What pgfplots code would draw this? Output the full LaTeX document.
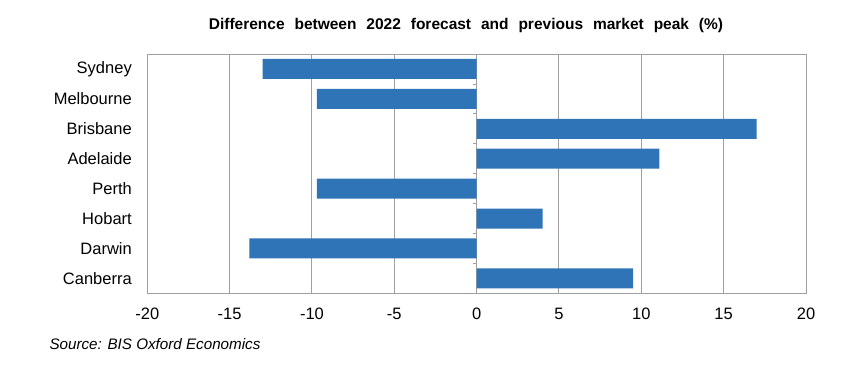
\documentclass[border=0pt]{standalone}
\usepackage{pgfplots}
\pgfplotsset{compat=1.18}
\usepackage{fontspec}
\setmainfont{Liberation Sans}
\newfontfamily\titlefont[WordSpace=2.3]{Liberation Sans}
\definecolor{barblue}{RGB}{46,116,182}
\definecolor{gridgray}{RGB}{160,160,160}
\begin{document}
\begin{tikzpicture}[x=1pt,y=1pt]
\path[use as bounding box] (0,0) rectangle (864,384);
\begin{axis}[
  at={(147.3pt,90.7pt)}, anchor=south west,
  scale only axis, width=658.7pt, height=239.3pt,
  xmin=-20, xmax=20, ymin=-0.5, ymax=7.5,
  xtick={-20,-15,...,20},
  ytick={0,...,7},
  yticklabels={Canberra,Darwin,Hobart,Perth,Adelaide,Brisbane,Melbourne,Sydney},
  xmajorgrids, major grid style={gridgray, line width=1pt},
  axis line style={gridgray, line width=1pt},
  major tick length=0pt,
  tick label style={font=\fontsize{16.5}{18}\selectfont},
  /pgf/number format/assume math mode=true,
  xticklabel style={yshift=-11pt},
  yticklabel style={xshift=-12pt},
  xbar, bar width=0.667,
]
\addplot[fill=barblue, draw=none] coordinates {
(-13.0,7) (-9.7,6) (17.0,5) (11.1,4) (-9.7,3) (4.0,2) (-13.8,1) (9.5,0)};
\pgfplotsinvokeforeach{0.5,1.5,...,6.5}{
  \draw[gridgray, line width=0.8pt] (axis cs:0,#1) -- ++(-4pt,0pt);
}
\end{axis}
\node[font=\titlefont\bfseries\fontsize{15.5}{18}\selectfont] at (466,359) {Difference between 2022 forecast and previous market peak (\%)};
\node[font=\itshape\fontsize{15.2}{17}\selectfont, anchor=west] at (46,40) {Source: BIS Oxford Economics};
\end{tikzpicture}
\end{document}
